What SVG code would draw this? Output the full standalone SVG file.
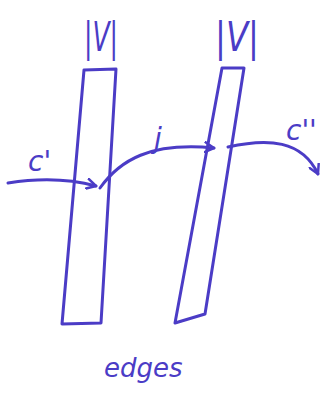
<svg xmlns="http://www.w3.org/2000/svg" width="335" height="399" viewBox="0 0 335 399">
  <style>
    .ink { fill: none; stroke: #4b3cc6; stroke-width: 3; stroke-linecap: round; stroke-linejoin: round; }
    .lbl { fill: #4b3cc6; font-family: "DejaVu Sans", "Liberation Sans", sans-serif; font-style: italic; }
  </style>
  <defs>
    <marker id="arrow" viewBox="0 0 12 12" refX="10" refY="6" markerWidth="12" markerHeight="12" markerUnits="userSpaceOnUse" orient="auto">
      <path d="M1,1 L10,6 L1,11" fill="none" stroke="#4b3cc6" stroke-width="2.5" stroke-linecap="round" stroke-linejoin="round"/>
    </marker>
  </defs>
  <rect width="335" height="399" fill="#ffffff"/>

  <g id="node-left">
    <path class="ink" d="M84,70 L116,69 L101,323 L62,324 Z"/>
    <text class="lbl" x="84" y="51" font-size="40" textLength="34" lengthAdjust="spacingAndGlyphs">|V|</text>
  </g>

  <g id="node-right">
    <path class="ink" d="M222,68 L244,68 L205,314 L175,323 Z"/>
    <text class="lbl" x="215" y="51" font-size="40" textLength="44" lengthAdjust="spacingAndGlyphs">|V|</text>
  </g>

  <g id="connectors">
    <path class="ink" d="M8,183 C40,178 70,179 96,186" marker-end="url(#arrow)"/>
    <path class="ink" d="M100,188 C120,160 150,142 214,148" marker-end="url(#arrow)"/>
    <path class="ink" d="M228,147 C268,138 302,140 318,174" marker-end="url(#arrow)"/>
  </g>

  <g id="labels">
    <text class="lbl" x="28" y="171" font-size="28">c'</text>
    <text class="lbl" x="154" y="148" font-size="28">j</text>
    <text class="lbl" x="286" y="140" font-size="28">c''</text>
    <text class="lbl" x="104" y="377" font-size="26">edges</text>
  </g>
</svg>
